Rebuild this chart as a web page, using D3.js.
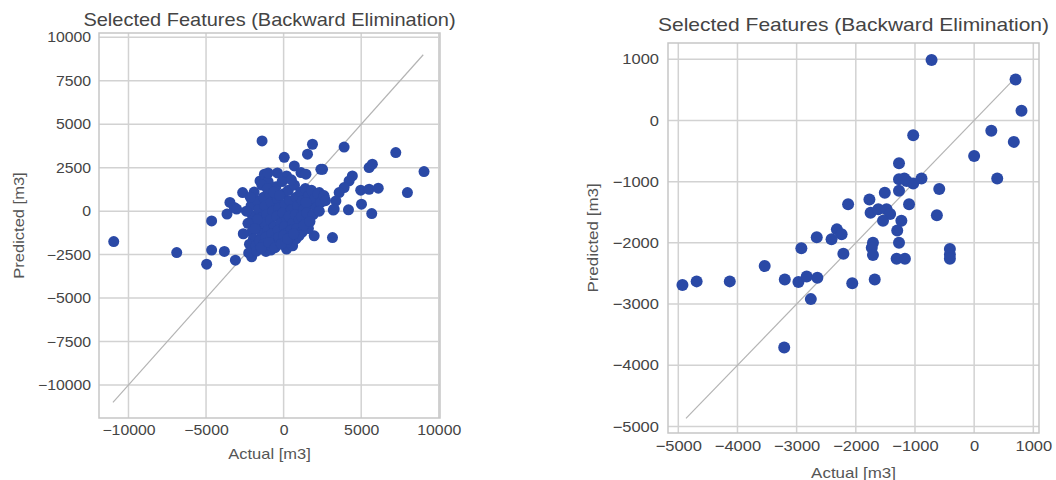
<!DOCTYPE html>
<html>
<head>
<meta charset="utf-8">
<script src="https://cdn.jsdelivr.net/npm/d3@7"></script>
<style>
  body { margin: 0; background: #fff; }
  svg { display: block; font-family: "Liberation Sans", Arial, sans-serif; }
  .grid line { stroke: #d2d2d2; stroke-width: 1.5; }
  .tick text { fill: #444; }
</style>
</head>
<body>
<svg width="1056" height="480"></svg>
<script>
// left panel: actual vs predicted (all points)
var leftActual = [
  -10950, -6890, -4960, -4640, -4640, -3820, -3650, -3460, -3180, -3030, -3110, -2640, -2060, -1950,
  -1390, -1520, -1240, -1140, -820, 40, 190, 190, 580, 690, 1120, 1440, 1540, 1860, 1970, 2400,
  3150, 3200, 3900, 4180, 4430, 4220, 3900, 3580, 3370, 3260, 5020, 4970, 5510, 6100, 5680,
  5510, 5720, 7230, 7980, 9050, 2510, 2300, 2620, 1860,
  -2100, -2000, -1900, -2050, -1950, -2200, -1800, -1700, -1600, -1500, -1650, -1400, -1550,
  -1300, -1200, -1100, -1250, -1000, -1150, -900, -800, -700, -850, -600, -750, -500, -400,
  -300, -450, -200, -350, -100, 0, 100, -50, 200, 50, 150, 300, 400, 500, 350, 600, 450,
  700, 800, 900, 750, 1000, 850, 1100, 1200, 1300, 1150, 1400, 1600, 1700, 1500, 1800, 2000,
  2100, 1900, 2200, 2400, 2600, 2300, 2700, -1000, -1900, -1700, -1300, -600, 200, 800,
  1200, 1600, -2300, -2400, -800, -300, -1400, -2600, 0, 400, 1000, 500, -400, 1300, 1700, -1000,
  -2250, -1750, -1450, -950, -550, -150, 250, 650, -2150, -1850, -1050, -650, -250, 1450
];
var leftPredicted = [
  -1750, -2380, -3050, -560, -2240, -2320, -170, 500, 210, 120, -2820, 1070, -2630, -2240,
  4040, 1740, 2130, -2320, -2240, 3100, 2030, -2180, -1990, 2600, 2220, 2130, 3280, 3850, -1420, 2410,
  -1520, 60, 3690, 80, 2030, 1740, 1360, 1070, 590, 120, 400, 1210, 1260, 1320, -140,
  2510, 2700, 3370, 1070, 2280, 2410, 1070, 780, 780,
  300, -300, -800, -1200, -1600, -1900, -2000, 600, 100, -400, -1000, -1300, -1700,
  800, 300, -200, -700, -1100, -1500, 1000, 500, 0, -500, -900, -1300, 1400, 700,
  200, -300, -700, -1100, 1700, 1000, 400, -100, -500, -900, -1300, 1200, 600, 100, -300, -700, -1100,
  1500, 800, 300, -200, -500, -1000, 1100, 600, 100, -300, 1300, 900, 400, -100, 1200, 700,
  200, -200, 1000, 500, 900, 0, 600, 1700, 1100, -500, -1900, -1700, -1800, -1600,
  -1200, -1000, -700, 0, -2000, -1500, 1500, -1300, -1400, -1500, -1400, 1800, 2200, -800, -600, 2200,
  -2400, -2300, -2100, -1800, -2100, -1900, -1600, -1300, 800, -1000, 1300, 1100, 900, 500
];
var leftTicks = [-10000, -5000, 0, 5000, 10000];
var leftYTicks = [-10000, -7500, -5000, -2500, 0, 2500, 5000, 7500, 10000];
var leftLine = [-11000, 9000];

// right panel: actual vs predicted (subset)
var rightActual = [
  -720, 700, 800, -1030, 290, 670, 0, 390, -1270, -1270, -1140, -1030, -890, -1180, -1270,
  -1510, -590, -1100, -2130, -1770, -1750, -1620, -1480, -1420, -1540, -1230, -1300, -630,
  -2320, -2240, -2410, -2660, -1270, -1710, -1730, -1710, -2210, -2920, -1310, -1170, -410,
  -410, -410, -3540, -4930, -4690, -4130, -3200, -2970, -2830, -2650, -2060, -1680, -2760, -3210
];
var rightPredicted = [
  990, 670, 160, -240, -170, -350, -580, -950, -700, -960, -990, -1030, -950, -950, -1150,
  -1180, -1120, -1370, -1370, -1290, -1510, -1450, -1450, -1530, -1640, -1640, -1800, -1550,
  -1780, -1860, -1940, -1910, -2000, -2000, -2080, -2200, -2180, -2090, -2260, -2260, -2100,
  -2190, -2260, -2380, -2690, -2630, -2630, -2600, -2640, -2550, -2570, -2660, -2600, -2920, -3710
];
var rightTicks = [-5000, -4000, -3000, -2000, -1000, 0, 1000];
var rightYTicks = [-5000, -4000, -3000, -2000, -1000, 0, 1000];
var rightLine = [-4870, 650];

var titleText = "Selected Features (Backward Elimination)";
var dotColor = "#2a49a6";
var stretch = 1.13; // the source font runs wider than Liberation Sans

var svg = d3.select("svg");

function drawPanel(p) {
  var x = d3.scaleLinear().domain(p.xDomain).range([p.left, p.right]);
  var y = d3.scaleLinear().domain(p.yDomain).range([p.bottom, p.top]);
  var g = svg.append("g");

  // grid
  var grid = g.append("g").attr("class", "grid");
  grid.selectAll(".vx").data(p.xTicks).enter().append("line")
    .attr("x1", d => x(d)).attr("x2", d => x(d))
    .attr("y1", p.top).attr("y2", p.bottom);
  grid.selectAll(".hy").data(p.yTicks).enter().append("line")
    .attr("x1", p.left).attr("x2", p.right)
    .attr("y1", d => y(d)).attr("y2", d => y(d));

  // frame
  g.append("rect")
    .attr("x", p.left).attr("y", p.top)
    .attr("width", p.right - p.left).attr("height", p.bottom - p.top)
    .attr("fill", "none").attr("stroke", "#c6c6c6").attr("stroke-width", 1.5);

  // axes (labels only)
  var xa = g.append("g").attr("transform", "translate(0," + p.bottom + ")")
    .call(d3.axisBottom(x).tickValues(p.xTicks).tickSize(0).tickPadding(p.pad).tickFormat(d3.format("d")));
  var ya = g.append("g").attr("transform", "translate(" + p.left + ",0)")
    .call(d3.axisLeft(y).tickValues(p.yTicks).tickSize(0).tickPadding(p.pad).tickFormat(d3.format("d")));
  [xa, ya].forEach(function(a) {
    a.select(".domain").remove();
    a.selectAll("text").style("font-size", p.tickSize + "px")
      .attr("font-family", "Liberation Sans, Arial, sans-serif")
      .attr("transform", "scale(" + stretch + ",1)");
  });

  // identity line
  g.append("line")
    .attr("x1", x(p.line[0])).attr("y1", y(p.line[0]))
    .attr("x2", x(p.line[1])).attr("y2", y(p.line[1]))
    .attr("stroke", "#b4b4b4").attr("stroke-width", 1.2);

  // points
  var pts = p.xs.map((d, i) => [d, p.ys[i]]);
  g.selectAll("circle").data(pts).enter().append("circle")
    .attr("cx", d => x(d[0])).attr("cy", d => y(d[1]))
    .attr("r", p.r).attr("fill", dotColor);

  // title + axis titles
  var cx = (p.left + p.right) / 2;
  g.append("text").text(titleText)
    .attr("transform", "translate(" + cx + "," + p.titleY + ") scale(" + stretch + ",1)")
    .attr("text-anchor", "middle").attr("fill", "#444")
    .style("font-size", p.titleSize + "px");
  g.append("text").text("Actual [m3]")
    .attr("transform", "translate(" + cx + "," + p.xLabelY + ") scale(" + stretch + ",1)")
    .attr("text-anchor", "middle").attr("fill", "#555")
    .style("font-size", p.labelSize + "px");
  g.append("text").text("Predicted [m3]")
    .attr("transform", "translate(" + p.yLabelX + "," + (p.top + p.bottom) / 2 + ") rotate(-90) scale(" + stretch + ",1)")
    .attr("text-anchor", "middle").attr("fill", "#555")
    .style("font-size", p.labelSize + "px");
}

drawPanel({
  xs: leftActual, ys: leftPredicted, xTicks: leftTicks, yTicks: leftYTicks, line: leftLine,
  xDomain: [-11900, 10080], yDomain: [-11900, 10250],
  left: 99, right: 440, top: 33, bottom: 418,
  r: 5.5, pad: 7, tickSize: 14, titleSize: 17.7, labelSize: 14.6,
  titleY: 26, xLabelY: 459, yLabelX: 24
});

drawPanel({
  xs: rightActual, ys: rightPredicted, xTicks: rightTicks, yTicks: rightYTicks, line: rightLine,
  xDomain: [-5174, 1096], yDomain: [-5108, 1266],
  left: 668, right: 1039, top: 43, bottom: 433,
  r: 6, pad: 8, tickSize: 14.6, titleSize: 18.6, labelSize: 15,
  titleY: 31, xLabelY: 478, yLabelX: 598
});
</script>
</body>
</html>
